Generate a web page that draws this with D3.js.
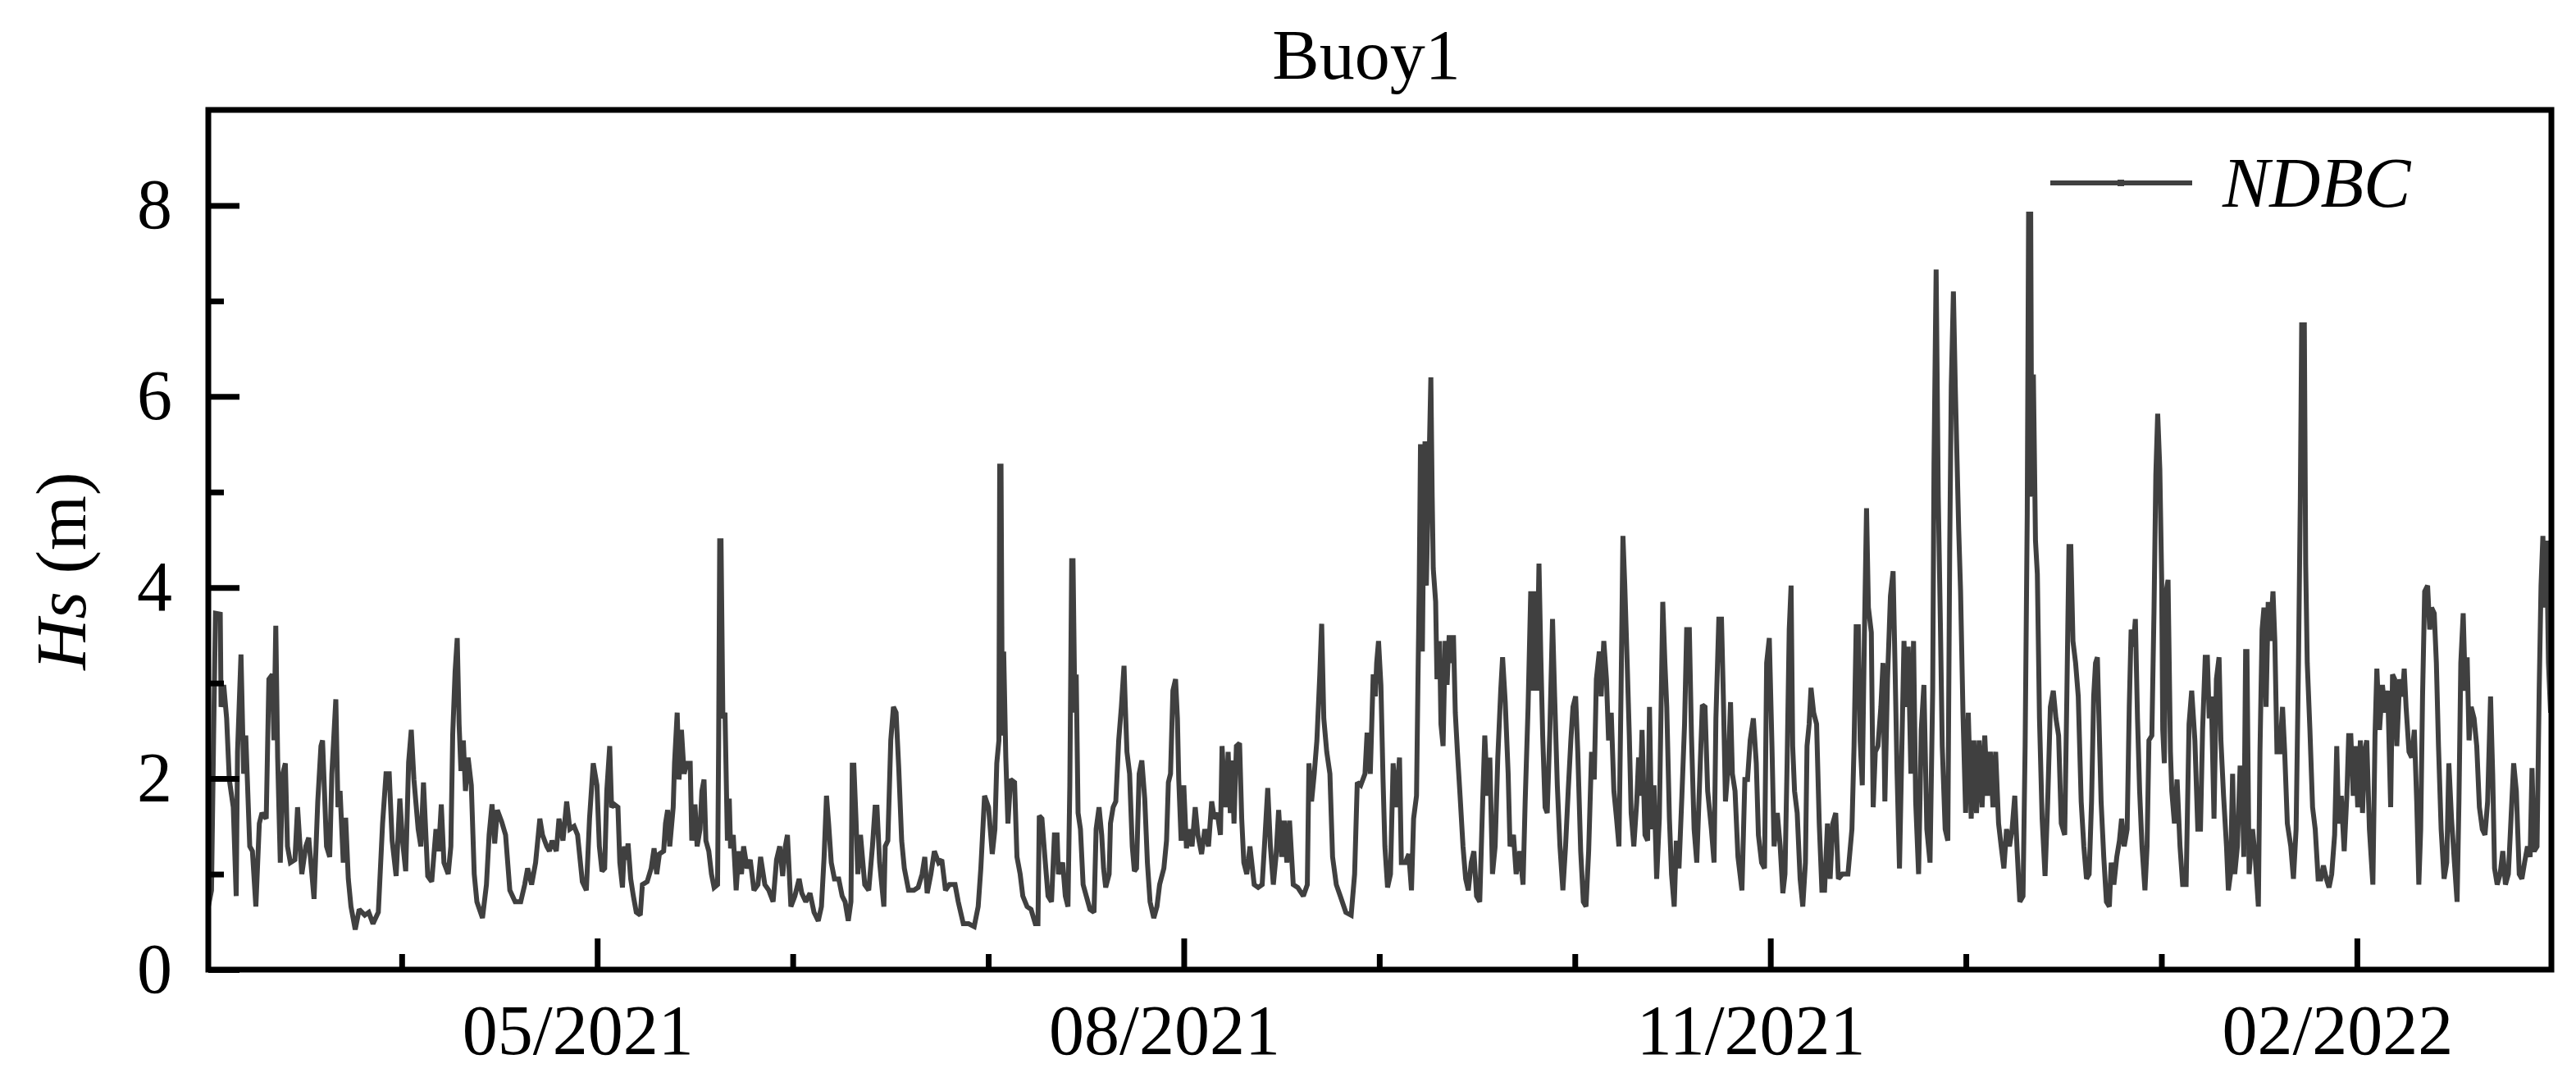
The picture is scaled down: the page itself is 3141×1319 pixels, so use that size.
<!DOCTYPE html>
<html><head><meta charset="utf-8">
<script src="https://cdn.jsdelivr.net/npm/d3@7"></script>
<style>body{margin:0;background:#fff}svg{display:block}</style>
</head><body>
<svg id="chart" width="3141" height="1319"></svg>
<script>
// ---------------- DATA ----------------
const chartTitle = "Buoy1";
const seriesName = "NDBC";
const startTimeUTC = "2021-03-01T00:00:00Z";   // hour 0 of the record
const endHour = 8820;                           // last record hour
const yMajorTicks = [0, 2, 4, 6, 8];
const yMinorTicks = [1, 3, 5, 7];
const xMajorTickDates = ["2021-05-01", "2021-08-01", "2021-11-01", "2022-02-01"];

// Hours since start, and Hs (m), by two-month period
const hoursMarApr = [0,12,20,27,45,48,58,69,79,94,105,110,123,133,141,156,166,179,192,202,218,228,241,247,254,261,271,280,290,298,309,326,336,352,367,378,398,412,424,430,445,457,465,480,488,496,508,517,527,537,553,568,589,604,620,640,656,669,681,692,707,721,731,743,754,764,774,790,800,810,826,841,857,867,877,887,903,913,920,929,937,944,951,960,968,978,990,1001,1011,1032,1047,1057,1068,1078,1088,1104,1119,1135,1155,1176,1191,1202,1217,1232,1248,1258,1274,1284,1294,1310,1320,1335,1349,1361,1377,1390,1408,1423,1435,1449];
const hsMarApr = [0.66,0.83,2.45,3.73,3.72,2.75,2.98,2.63,1.99,1.70,0.77,2.28,3.30,2.05,2.45,1.29,1.24,0.66,1.53,1.64,1.58,3.04,3.09,2.40,3.60,2.22,1.12,2.05,2.16,1.29,1.12,1.15,1.70,1.00,1.29,1.38,0.74,1.76,2.34,2.40,1.29,1.18,2.05,2.83,1.70,1.87,1.12,1.59,0.95,0.66,0.42,0.63,0.57,0.60,0.48,0.60,1.53,2.05,2.05,1.35,0.98,1.79,1.35,1.03,2.17,2.51,1.99,1.47,1.29,1.96,0.98,0.92,1.47,1.24,1.73,1.12,1.00,1.29,2.46,3.12,3.47,2.57,2.08,2.40,1.87,2.22,1.93,1.00,0.71,0.54,0.89,1.41,1.73,1.32,1.67,1.55,1.41,0.83,0.71,0.71,0.89,1.06,0.89,1.12,1.58,1.41,1.29,1.24,1.35,1.24,1.58,1.35,1.76,1.47,1.50,1.41,0.92,0.83,1.58,2.16];

const hoursMayJun = [1463,1472,1482,1492,1500,1511,1518,1528,1542,1549,1559,1566,1575,1580,1590,1600,1611,1626,1634,1652,1667,1678,1688,1698,1714,1721,1729,1737,1750,1755,1765,1772,1781,1791,1801,1814,1820,1832,1840,1851,1858,1866,1873,1884,1894,1904,1917,1921,1925,1930,1937,1945,1954,1961,1966,1976,1987,1997,2007,2015,2028,2040,2054,2069,2079,2095,2110,2126,2139,2151,2162,2172,2180,2193,2208,2224,2234,2249,2265,2280,2296,2308,2318,2327,2335,2345,2357,2373,2386,2397,2409,2419,2424,2430,2438,2445,2455,2471,2486,2500,2510,2517,2527,2543,2548,2558,2569,2579,2589,2599,2610,2620,2636,2656,2672,2687,2697,2706,2720,2733,2749,2761,2775,2790,2811,2823,2842,2862,2883,2898,2908,2922];
const hsMayJun = [1.93,1.29,1.03,1.06,1.87,2.34,1.70,1.73,1.70,1.12,0.86,1.29,1.15,1.32,0.95,0.77,0.60,0.57,0.89,0.92,1.06,1.27,1.00,1.21,1.24,1.53,1.67,1.29,1.70,2.16,2.69,1.99,2.51,2.05,2.16,2.16,1.35,1.73,1.29,1.47,1.87,1.99,1.35,1.24,1.00,0.86,0.89,2.34,4.49,4.49,2.63,2.69,1.35,1.79,1.27,1.41,0.83,1.24,1.00,1.29,1.06,1.15,0.83,0.89,1.18,0.89,0.83,0.71,1.15,1.29,0.98,1.29,1.41,0.66,0.77,0.95,0.80,0.71,0.80,0.60,0.51,0.66,1.18,1.82,1.53,1.12,0.95,0.95,0.77,0.71,0.51,0.71,2.14,2.14,1.58,1.00,1.41,0.89,0.83,1.29,1.70,1.70,1.12,0.66,1.29,1.35,2.40,2.75,2.69,2.11,1.35,1.06,0.83,0.83,0.86,1.00,1.18,0.80,1.00,1.24,1.12,1.15,0.83,0.89,0.89,0.71,0.48,0.48,0.45,0.66,1.06,1.82];

const hoursJulAug = [2937,2951,2961,2968,2976,2979,2984,2989,2994,3002,3010,3020,3035,3044,3056,3066,3082,3097,3113,3123,3128,3138,3149,3161,3174,3185,3195,3200,3216,3226,3236,3243,3250,3255,3262,3267,3274,3283,3293,3305,3319,3334,3342,3353,3363,3370,3378,3391,3396,3406,3416,3427,3437,3447,3452,3458,3468,3478,3486,3494,3504,3514,3525,3535,3545,3559,3571,3581,3597,3607,3614,3622,3631,3641,3648,3653,3662,3672,3682,3692,3703,3715,3725,3739,3751,3765,3777,3787,3798,3810,3816,3823,3830,3839,3847,3854,3861,3870,3882,3890,3898,3909,3921,3937,3952,3967,3978,3988,3998,4009,4019,4029,4040,4050,4060,4070,4084,4101,4122,4137,4143,4153,4163,4173,4184,4191,4199,4210,4222,4232,4246,4261,4282,4302,4315,4325,4338,4354,4362,4374,4385,4393];
const hsJulAug = [1.70,1.21,1.47,2.16,2.40,5.27,5.27,2.45,3.33,2.22,1.53,1.99,1.96,1.18,1.00,0.77,0.66,0.63,0.48,0.48,1.61,1.58,1.18,0.77,0.71,1.41,1.41,1.00,1.12,0.77,0.66,1.93,4.28,4.28,2.69,3.09,1.64,1.47,0.89,0.77,0.63,0.60,1.47,1.70,1.41,1.06,0.86,1.00,1.53,1.70,1.76,2.40,2.75,3.18,2.75,2.28,2.05,1.29,1.03,1.06,2.05,2.19,1.79,1.12,0.71,0.54,0.66,0.89,1.06,1.35,1.96,2.05,2.92,3.04,2.63,1.99,1.35,1.93,1.27,1.47,1.29,1.70,1.41,1.21,1.47,1.29,1.76,1.58,1.64,1.41,2.34,1.96,1.70,2.28,1.64,2.19,1.53,2.34,2.37,1.58,1.12,1.00,1.29,0.89,0.86,0.89,1.41,1.90,1.29,0.89,1.18,1.67,1.18,1.56,1.12,1.56,0.89,0.86,0.77,0.89,2.16,1.76,2.05,2.40,3.09,3.62,2.63,2.28,2.05,1.18,0.89,0.77,0.60,0.57,1.00,1.96,1.93,2.05,2.48,2.05,3.09,2.86];

const hoursSepOct = [4398,4405,4414,4422,4429,4439,4450,4460,4470,4484,4491,4506,4519,4529,4537,4548,4553,4558,4563,4570,4576,4580,4585,4591,4597,4602,4607,4611,4620,4625,4635,4640,4648,4656,4663,4671,4679,4687,4694,4702,4712,4723,4733,4743,4754,4764,4774,4786,4797,4805,4815,4824,4834,4844,4854,4865,4872,4882,4893,4900,4913,4923,4937,4949,4957,4968,4978,4985,4992,5001,5009,5016,5023,5032,5040,5050,5060,5068,5078,5088,5099,5109,5119,5129,5137,5147,5155,5166,5176,5186,5196,5207,5217,5225,5236,5243,5253,5263,5271,5281,5291,5301,5310,5318,5325,5332,5341,5349,5356,5366,5377,5384,5390,5397,5408,5418,5425,5433,5442,5452,5462,5469,5475,5483,5490,5500,5508,5518,5526,5536,5547,5557,5565,5575,5583,5593,5603,5614,5624,5634,5644,5658,5668,5675,5686,5696,5703,5711,5722,5730,5737,5747,5758,5773,5784,5794,5804,5816,5827,5835,5847,5858,5866,5876];
const hsSepOct = [3.21,3.44,2.98,1.99,1.29,0.86,1.00,2.16,1.70,2.22,1.12,1.12,1.21,0.83,1.58,1.82,2.92,3.96,5.50,3.33,4.95,5.53,4.02,4.83,5.53,6.20,4.95,4.20,3.85,3.04,3.44,2.57,2.34,3.44,2.98,3.50,3.21,3.50,2.69,2.28,1.82,1.29,0.95,0.83,1.12,1.24,0.77,0.71,1.76,2.45,1.82,2.22,1.00,1.29,2.22,2.92,3.27,2.80,2.05,1.29,1.41,1.00,1.24,0.89,1.76,2.75,3.96,2.92,3.96,2.92,4.25,3.27,2.45,1.70,1.64,2.51,3.67,2.86,1.93,1.29,0.83,1.29,1.87,2.40,2.75,2.86,2.28,1.24,0.71,0.66,1.24,2.28,1.99,3.04,3.33,2.86,3.44,3.04,2.40,2.69,1.87,1.58,1.29,2.92,4.54,4.02,3.21,2.45,1.64,1.29,1.76,2.22,1.82,2.51,1.41,1.35,2.75,1.47,1.93,0.95,1.58,2.80,3.85,3.21,2.75,1.58,1.00,0.66,1.35,1.06,1.82,2.57,3.56,3.56,2.45,1.47,1.12,1.99,2.77,2.75,1.87,1.47,1.12,2.63,3.67,3.67,2.86,1.76,2.16,2.80,2.05,1.87,1.18,0.83,1.99,1.99,2.40,2.63,2.16,1.41,1.12,1.06,3.21,3.47];

const hoursNovDec = [5886,5894,5906,5917,5927,5935,5943,5951,5958,5964,5971,5981,5992,6002,6012,6018,6026,6033,6043,6054,6064,6074,6084,6095,6105,6115,6126,6136,6151,6172,6187,6195,6203,6211,6218,6226,6234,6242,6249,6260,6267,6275,6285,6296,6304,6311,6321,6332,6342,6349,6357,6366,6373,6383,6390,6399,6409,6419,6427,6438,6448,6458,6469,6481,6491,6496,6504,6512,6520,6527,6538,6548,6555,6561,6569,6576,6582,6589,6596,6605,6615,6625,6636,6646,6656,6666,6677,6687,6697,6708,6718,6728,6739,6749,6759,6769,6780,6790,6800,6809,6819,6831,6839,6847,6852,6860,6864,6870,6878,6885,6893,6903,6914,6924,6934,6945,6955,6965,6975,6988,6996,7004,7011,7019,7029,7039,7050,7060,7070,7080,7089,7097,7104,7111,7118,7125,7135,7145,7156,7163,7173,7184,7194,7202,7212,7223,7231,7238,7246,7254,7262,7270,7279,7290,7298,7305,7316,7324,7331,7338];
const hsNovDec = [2.34,1.29,1.64,1.29,0.80,1.00,2.16,3.56,4.02,2.34,1.87,1.64,0.95,0.66,1.12,2.34,2.57,2.95,2.69,2.57,1.53,0.83,0.83,1.53,0.95,1.53,1.64,0.95,1.00,1.00,1.47,2.34,3.59,3.59,2.40,1.93,3.50,4.83,3.79,3.53,1.70,2.28,2.34,2.75,3.21,1.76,3.04,3.91,4.17,3.21,2.05,1.06,2.05,3.44,2.75,3.38,2.05,3.44,1.76,1.00,2.51,2.98,1.47,1.12,2.92,5.30,7.33,4.95,3.62,2.34,1.47,1.35,4.37,6.11,7.10,6.11,5.41,4.60,3.96,2.69,1.64,2.69,1.58,2.40,1.64,2.40,1.70,2.45,1.82,2.28,1.70,2.28,1.53,1.29,1.06,1.47,1.29,1.47,1.82,1.24,0.71,0.77,2.34,4.78,7.91,7.91,4.95,6.23,4.49,4.14,2.63,1.58,0.98,1.76,2.75,2.92,2.63,2.45,1.53,1.41,2.86,4.43,4.43,3.44,3.21,2.86,1.76,1.29,0.95,1.00,1.76,2.86,3.21,3.27,2.51,1.76,1.18,0.71,0.66,1.12,0.89,1.18,1.35,1.58,1.29,1.47,2.75,3.56,3.38,3.67,2.63,1.87,1.29,0.83,1.29,2.40,2.45,3.73,5.18,5.82];

const hoursJanMar = [7346,7353,7357,7363,7370,7377,7386,7391,7401,7411,7422,7432,7445,7456,7466,7478,7489,7499,7507,7517,7525,7532,7540,7550,7559,7569,7576,7586,7597,7604,7612,7620,7628,7638,7648,7655,7662,7669,7674,7682,7695,7705,7717,7723,7731,7738,7746,7754,7761,7772,7779,7787,7798,7808,7816,7826,7839,7849,7859,7868,7875,7880,7890,7895,7901,7911,7921,7931,7942,7952,7962,7973,7983,7993,8004,8012,8019,8029,8040,8050,8057,8065,8074,8082,8091,8101,8109,8117,8125,8135,8148,8156,8163,8173,8184,8194,8204,8215,8222,8230,8238,8249,8259,8266,8273,8284,8294,8304,8313,8321,8328,8335,8343,8354,8362,8369,8379,8387,8395,8405,8416,8426,8434,8444,8455,8465,8472,8479,8488,8496,8503,8510,8518,8529,8539,8549,8560,8570,8580,8591,8599,8606,8616,8627,8637,8647,8658,8668,8678,8688,8699,8709,8719,8730,8740,8747,8755,8766,8774,8781,8788,8795,8802,8809,8817,8820];
const hsJanMar = [5.24,4.08,2.51,2.16,3.96,4.08,2.28,1.87,1.53,1.99,1.29,0.89,0.89,2.57,2.92,2.40,1.47,1.47,2.51,3.27,3.27,2.63,2.86,1.58,3.04,3.27,2.40,1.82,1.29,0.83,1.00,2.05,1.00,1.29,2.11,2.11,1.18,3.33,3.33,1.00,1.47,1.18,0.66,2.28,3.56,3.79,2.75,3.85,3.44,3.96,3.44,2.28,2.28,2.75,2.28,1.53,1.29,0.95,1.47,3.21,4.95,6.75,6.75,4.25,3.21,2.51,1.70,1.47,0.95,0.95,1.09,0.95,0.86,1.00,1.41,2.34,1.53,1.82,1.24,1.82,2.45,2.45,1.82,2.34,1.70,2.40,1.64,2.28,2.40,1.47,0.89,2.45,3.15,2.51,2.98,2.69,2.92,1.70,3.09,3.04,2.34,3.04,2.86,3.15,2.75,2.28,2.22,2.51,1.76,0.89,1.47,2.86,3.96,4.02,3.56,3.79,3.73,3.21,2.34,1.47,0.95,1.12,2.16,1.58,1.12,0.71,1.76,3.21,3.73,2.92,3.27,2.40,2.75,2.63,2.34,1.70,1.47,1.41,1.76,2.86,2.05,1.06,0.89,1.00,1.24,0.89,1.00,1.58,2.16,1.87,1.00,0.95,1.12,1.29,1.18,2.11,1.24,1.29,2.92,4.02,4.54,3.79,4.49,3.21,2.69,3.30];

// ---------------- CHART ----------------
const plot = {left: 254, right: 3111, top: 134, bottom: 1182};
const font = "'Liberation Serif', 'Times New Roman', Times, serif";
const lineColor = "#404040";
const fs = 86;

const t0 = new Date(startTimeUTC).getTime();
const hourToDate = h => new Date(t0 + h * 3600e3);

const hourSets = [hoursMarApr, hoursMayJun, hoursJulAug, hoursSepOct, hoursNovDec, hoursJanMar];
const valueSets = [hsMarApr, hsMayJun, hsJulAug, hsSepOct, hsNovDec, hsJanMar];
const data = hourSets.flatMap((hs, k) => hs.map((h, i) => ({t: hourToDate(h), v: valueSets[k][i]})));

const x = d3.scaleUtc().domain([hourToDate(0), hourToDate(endHour)]).range([plot.left, plot.right]);
const y = d3.scaleLinear().domain([0, 9]).range([plot.bottom, plot.top]);

const svg = d3.select("#chart");
svg.append("rect").attr("width", 3141).attr("height", 1319).attr("fill", "#fff");

svg.append("defs").append("clipPath").attr("id", "clip")
  .append("rect").attr("x", plot.left).attr("y", plot.top)
  .attr("width", plot.right - plot.left).attr("height", plot.bottom - plot.top);

// data line
svg.append("path").datum(data)
  .attr("clip-path", "url(#clip)")
  .attr("fill", "none").attr("stroke", lineColor).attr("stroke-width", 6)
  .attr("stroke-linejoin", "miter").attr("stroke-miterlimit", 2)
  .attr("d", d3.line().x(d => x(d.t)).y(d => y(d.v)));

// x ticks: majors at the labelled months, two minors evenly between majors
const majorDates = xMajorTickDates.map(s => new Date(s + "T00:00:00Z"));
const majorMs = majorDates.map(d => d.getTime());
const firstGap = majorMs[1] - majorMs[0];
const lastGap = majorMs[majorMs.length - 1] - majorMs[majorMs.length - 2];
const ext = [majorMs[0] - firstGap, ...majorMs, majorMs[majorMs.length - 1] + lastGap];
const minorDates = [];
for (let i = 0; i < ext.length - 1; i++) {
  for (const f of [1 / 3, 2 / 3]) {
    const t = new Date(ext[i] + f * (ext[i + 1] - ext[i]));
    if (t >= x.domain()[0] && t <= x.domain()[1]) minorDates.push(t);
  }
}

const gx = svg.append("g").attr("transform", `translate(0,${plot.bottom})`)
  .call(d3.axisBottom(x).tickValues(majorDates).tickSize(-38).tickPadding(42)
    .tickFormat(d3.utcFormat("%m/%Y")));
gx.selectAll(".tick text").attr("dx", -24);
const gxm = svg.append("g").attr("transform", `translate(0,${plot.bottom})`)
  .call(d3.axisBottom(x).tickValues(minorDates).tickSize(-19).tickFormat(""));

const gy = svg.append("g").attr("transform", `translate(${plot.left},0)`)
  .call(d3.axisLeft(y).tickValues(yMajorTicks).tickSize(-38).tickPadding(44).tickFormat(d3.format("d")));
const gym = svg.append("g").attr("transform", `translate(${plot.left},0)`)
  .call(d3.axisLeft(y).tickValues(yMinorTicks).tickSize(-19).tickFormat(""));

[gx, gxm, gy, gym].forEach(g => {
  g.select(".domain").remove();
  g.selectAll(".tick line").attr("stroke", "#000").attr("stroke-width", 7);
  g.selectAll(".tick text").attr("fill", "#000").style("font-family", font).style("font-size", fs + "px");
});

// frame
svg.append("rect").attr("x", plot.left).attr("y", plot.top)
  .attr("width", plot.right - plot.left).attr("height", plot.bottom - plot.top)
  .attr("fill", "none").attr("stroke", "#000").attr("stroke-width", 7);

// title
svg.append("text").attr("x", 1666).attr("y", 96)
  .attr("text-anchor", "middle").style("font-family", font).style("font-size", fs + "px")
  .text(chartTitle);

// y label
const yl = svg.append("text").attr("transform", "translate(104,696) rotate(-90)")
  .attr("text-anchor", "middle").style("font-family", font).style("font-size", fs + "px");
yl.append("tspan").style("font-style", "italic").text("Hs");
yl.append("tspan").text(" (m)");

// legend
const lg = svg.append("g");
lg.append("line").attr("x1", 2500).attr("x2", 2673).attr("y1", 223).attr("y2", 223)
  .attr("stroke", lineColor).attr("stroke-width", 6);
lg.append("rect").attr("x", 2582).attr("y", 219).attr("width", 8).attr("height", 8).attr("fill", lineColor);
lg.append("text").attr("x", 2710).attr("y", 252).style("font-family", font)
  .style("font-size", fs + "px").style("font-style", "italic").text(seriesName);
</script>
</body></html>
